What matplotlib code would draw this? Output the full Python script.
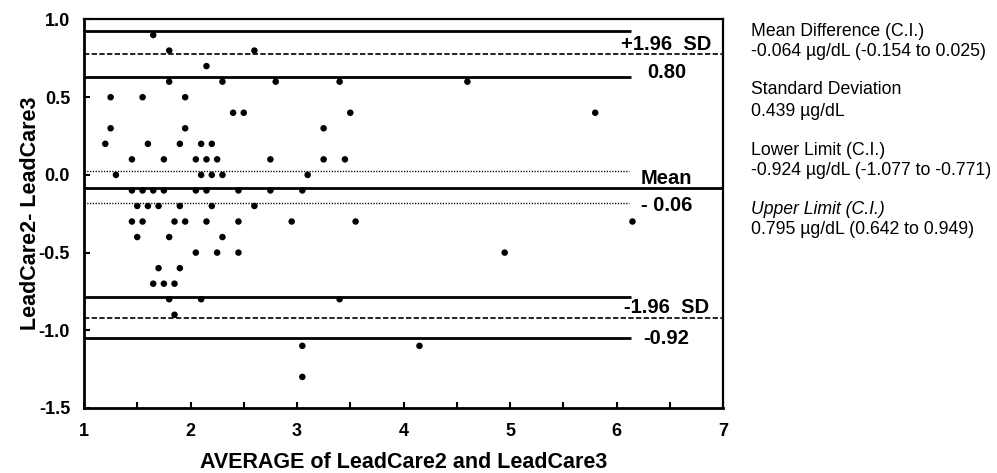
import matplotlib
matplotlib.use("Agg")
import matplotlib.pyplot as plt
import numpy as np

plt.rcParams["font.family"] = ["Liberation Sans", "DejaVu Sans"]
plt.rcParams["axes.unicode_minus"] = False

# ── DATA: Bland-Altman points (average, difference) ──────────────
avg = [1.65,
       1.80, 2.60,
       2.15,
       1.80, 2.30, 2.80, 3.40, 4.60,
       1.25, 1.55, 1.95,
       2.40, 2.50, 3.50, 5.80,
       1.25, 1.95, 3.25,
       1.20, 1.60, 1.90, 2.10, 2.20,
       1.45, 1.75, 2.05, 2.15, 2.25, 2.75, 3.25, 3.45,
       1.30, 2.10, 2.20, 2.30, 3.10,
       1.45, 1.55, 1.65, 1.75, 2.05, 2.15, 2.45, 2.75, 3.05,
       1.50, 1.60, 1.70, 1.90, 2.20, 2.60,
       1.45, 1.55, 1.85, 1.95, 2.15, 2.45, 2.95, 3.55, 6.15,
       1.50, 1.80, 2.30,
       2.05, 2.25, 2.45, 4.95,
       1.70, 1.90,
       1.65, 1.75, 1.85,
       1.80, 2.10, 3.40,
       1.85,
       3.05, 4.15,
       3.05]
diff = [0.9,
        0.8, 0.8,
        0.7,
        0.6, 0.6, 0.6, 0.6, 0.6,
        0.5, 0.5, 0.5,
        0.4, 0.4, 0.4, 0.4,
        0.3, 0.3, 0.3,
        0.2, 0.2, 0.2, 0.2, 0.2,
        0.1, 0.1, 0.1, 0.1, 0.1, 0.1, 0.1, 0.1,
        0.0, 0.0, 0.0, 0.0, 0.0,
        -0.1, -0.1, -0.1, -0.1, -0.1, -0.1, -0.1, -0.1, -0.1,
        -0.2, -0.2, -0.2, -0.2, -0.2, -0.2,
        -0.3, -0.3, -0.3, -0.3, -0.3, -0.3, -0.3, -0.3, -0.3,
        -0.4, -0.4, -0.4,
        -0.5, -0.5, -0.5, -0.5,
        -0.6, -0.6,
        -0.7, -0.7, -0.7,
        -0.8, -0.8, -0.8,
        -0.9,
        -1.1, -1.1,
        -1.3]

# reference lines as drawn
mean_line = -0.085
mean_ci = [0.023, -0.179]
upper_sd = 0.776
upper_ci = [0.926, 0.632]
lower_sd = -0.919
lower_ci = [-0.785, -1.052]

# labels written on the right of the plot: (text, y)
line_labels = ["+1.96  SD", "0.80", "Mean", "- 0.06", "-1.96  SD", "-0.92"]
line_label_y = [0.838, 0.656, -0.02, -0.195, -0.852, -1.05]

stats_lines = ["Mean Difference (C.I.)",
               "-0.064 \u00b5g/dL (-0.154 to 0.025)",
               "Standard Deviation",
               "0.439 \u00b5g/dL",
               "Lower Limit (C.I.)",
               "-0.924 \u00b5g/dL (-1.077 to -0.771)",
               "Upper Limit (C.I.)",
               "0.795 \u00b5g/dL (0.642 to 0.949)"]
stats_y_px = [32, 52, 90, 112, 150, 170, 209, 230]

x_ticks = [1, 2, 3, 4, 5, 6, 7]
y_ticks = [-1.5, -1.0, -0.5, 0.0, 0.5, 1.0]

# ── FIGURE ───────────────────────────────────────────────────────
W, H = 997, 473
fig = plt.figure(figsize=(W / 100, H / 100), dpi=100)
ax = fig.add_axes([84 / W, 1 - 408 / H, (723 - 84) / W, (408 - 19.5) / H])

ax.set_xlim(1, 7)
ax.set_ylim(-1.5, 1.0)

line_end = 6.14
# solid CI lines (short) and mean line (full)
for y in upper_ci + lower_ci:
    ax.hlines(y, 1, line_end, color="black", linewidth=2.0, zorder=2)
ax.hlines(mean_line, 1, 7, color="black", linewidth=2.0, zorder=2)
# dotted CI of mean
for y in mean_ci:
    ax.hlines(y, 1, 6.12, color="black", linewidth=1.0,
              linestyles=(0, (0.9, 1.1)), zorder=2)
# dashed limits of agreement
for y in [upper_sd, lower_sd]:
    ax.hlines(y, 1, 7, color="black", linewidth=1.2,
              linestyles=(0, (3.2, 1.4)), zorder=2)

ax.scatter(avg, diff, s=22, color="black", edgecolors="none", zorder=3)

for txt, y in zip(line_labels, line_label_y):
    ax.text(6.47, y, txt, ha="center", va="center", fontsize=14.5,
            fontweight="bold", zorder=4)

# axes styling
for side in ["left", "bottom"]:
    ax.spines[side].set_linewidth(2.0)
for side in ["top", "right"]:
    ax.spines[side].set_linewidth(1.6)

ax.set_xticks(x_ticks)
ax.set_xticklabels([str(v) for v in x_ticks])
ax.set_xticks(np.arange(1.5, 7, 1.0), minor=True)
ax.set_yticks(y_ticks)
ax.set_yticklabels([f"{v:.1f}" for v in y_ticks])
ax.tick_params(axis="both", which="both", direction="in", length=4,
               width=1.5, labelsize=13)
ax.tick_params(axis="y", pad=10)
ax.tick_params(axis="x", pad=11)
for lab in ax.get_xticklabels() + ax.get_yticklabels():
    lab.set_fontweight("bold")

ax.set_xlabel("AVERAGE of LeadCare2 and LeadCare3", fontsize=15.5,
              fontweight="bold")
ax.set_ylabel("LeadCare2- LeadCare3", fontsize=15.5, fontweight="bold")
ax.xaxis.label.set_va("center")
ax.yaxis.label.set_va("center")
ax.xaxis.set_label_coords(0.5, (408 - 462) / (408 - 19.5))
ax.yaxis.set_label_coords((30 - 84) / (723 - 84), 0.5)

# statistics text block on the right
for i, (txt, ypx) in enumerate(zip(stats_lines, stats_y_px)):
    style = "italic" if i == 6 else "normal"
    fig.text(751 / W, 1 - ypx / H, txt, ha="left", va="center",
             fontsize=12.7, fontstyle=style)

fig.savefig("out.png", dpi=100)
